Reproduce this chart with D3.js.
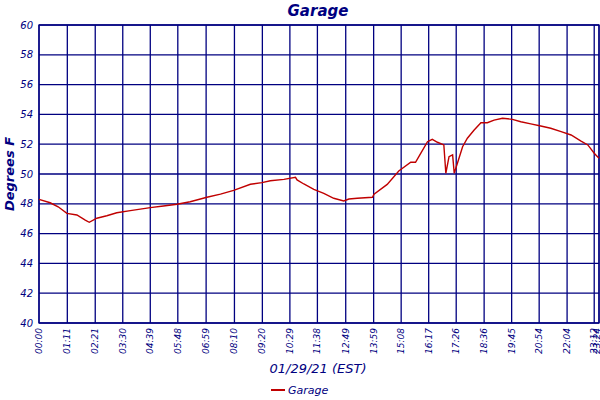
<!DOCTYPE html>
<html><head><meta charset="utf-8">
<script src="https://cdn.jsdelivr.net/npm/d3@7"></script>
<style>body{margin:0;background:#fff}svg{display:block}</style>
</head><body>
<svg id="c" width="600" height="400"></svg>
<script>
const title = "Garage";
const seriesName = "Garage";
const xTitle = "01/29/21 (EST)";
const yTitle = "Degrees F";
const xTickLabels = ["00:00","01:11","02:21","03:30","04:39","05:48","06:59","08:10","09:20","10:29","11:38","12:49","13:59","15:08","16:17","17:26","18:36","19:45","20:54","22:04","23:12","23:24"];
const yTicks = [40,42,44,46,48,50,52,54,56,58,60];
const minutes = [0,28,48,70,95,116,126,145,170,195,229,279,312,346,379,421,455,488,530,559,580,614,643,647,664,689,714,739,764,777,798,836,840,873,902,932,944,957,974,986,999,1015,1020,1028,1037,1041,1049,1062,1074,1091,1108,1124,1141,1162,1187,1208,1233,1258,1283,1309,1334,1359,1376,1392,1404];
const temps = [48.3,48.07,47.8,47.36,47.25,46.9,46.76,47.03,47.2,47.4,47.54,47.74,47.85,47.97,48.14,48.44,48.65,48.9,49.31,49.42,49.55,49.64,49.78,49.6,49.33,48.97,48.7,48.37,48.19,48.32,48.37,48.44,48.64,49.3,50.2,50.79,50.79,51.39,52.17,52.33,52.13,51.95,50.05,51.16,51.28,50.05,50.72,51.83,52.4,52.95,53.44,53.44,53.62,53.74,53.67,53.51,53.36,53.22,53.07,52.84,52.62,52.21,51.95,51.39,51.05];

const navy = "#000080", red = "#c00000";
const font = "'DejaVu Sans', Verdana, sans-serif";
const L = 39, R = 599, T = 25, B = 323;
const toMin = s => { const [h,m] = s.split(":").map(Number); return h*60+m; };

const svg = d3.select("#c");
const x = d3.scaleLinear().domain([0, toMin(xTickLabels[xTickLabels.length-1])]).range([L, R]);
const y = d3.scaleLinear().domain([40, 60]).range([B, T]);

// grid
const g = svg.append("g");
g.selectAll("line.h").data(yTicks).join("line")
  .attr("x1", L).attr("x2", R).attr("y1", d => y(d)).attr("y2", d => y(d))
  .attr("stroke", navy).attr("stroke-width", 1.3);
g.selectAll("line.v").data(xTickLabels).join("line")
  .attr("x1", d => x(toMin(d))).attr("x2", d => x(toMin(d))).attr("y1", T).attr("y2", B)
  .attr("stroke", navy).attr("stroke-width", 1.3);
g.append("rect").attr("x", L).attr("y", T).attr("width", R-L).attr("height", B-T)
  .attr("fill", "none").attr("stroke", navy).attr("stroke-width", 1.3);

// y labels
svg.append("g").selectAll("text").data(yTicks).join("text")
  .attr("x", 33).attr("y", d => y(d) + 3.5).attr("text-anchor", "end")
  .attr("font-family", font).attr("font-style", "italic").attr("font-size", 10)
  .attr("fill", navy).text(d => d);

// x labels
svg.append("g").selectAll("text").data(xTickLabels).join("text")
  .attr("transform", d => `translate(${Math.min(x(toMin(d)) + 3, 599.5)},${B + 5}) rotate(-90)`)
  .attr("text-anchor", "end")
  .attr("font-family", font).attr("font-style", "italic").attr("font-size", 9)
  .attr("fill", navy).text(d => d);

// line
const pts = minutes.map((m, i) => [m, temps[i]]);
svg.append("path").datum(pts)
  .attr("d", d3.line().x(d => x(d[0])).y(d => y(d[1])))
  .attr("fill", "none").attr("stroke", red).attr("stroke-width", 1.4);

// title
svg.append("text").attr("x", 318).attr("y", 16).attr("text-anchor", "middle")
  .attr("font-family", font).attr("font-style", "italic").attr("font-weight", "bold")
  .attr("font-size", 15).attr("fill", navy).text(title);
// y title
svg.append("text").attr("transform", "translate(14,174) rotate(-90)").attr("text-anchor", "middle")
  .attr("font-family", font).attr("font-style", "italic").attr("font-weight", "bold")
  .attr("font-size", 13).attr("fill", navy).text(yTitle);
// x title
svg.append("text").attr("x", 318).attr("y", 373).attr("text-anchor", "middle")
  .attr("font-family", font).attr("font-style", "italic")
  .attr("font-size", 13).attr("fill", navy).text(xTitle);
// legend
svg.append("line").attr("x1", 271).attr("x2", 285).attr("y1", 390).attr("y2", 390)
  .attr("stroke", red).attr("stroke-width", 2);
svg.append("text").attr("x", 288).attr("y", 394)
  .attr("font-family", font).attr("font-style", "italic")
  .attr("font-size", 11).attr("fill", navy).text(seriesName);
</script>
</body></html>
